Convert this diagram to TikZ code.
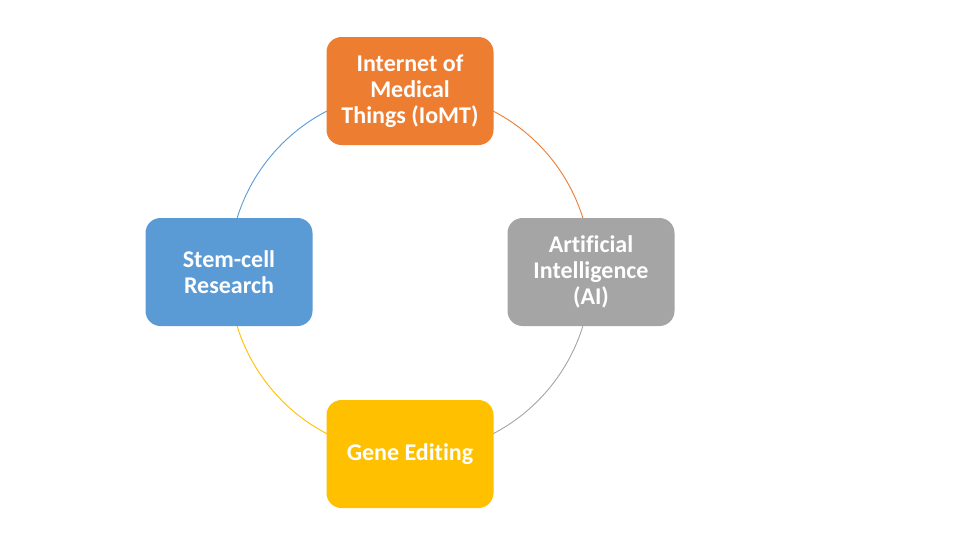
\documentclass[tikz,border=0pt]{standalone}
\usepackage{fontspec}
\setmainfont{Carlito}[Ligatures=NoCommon]
\usetikzlibrary{backgrounds}
\definecolor{cOrange}{HTML}{ED7D31}
\definecolor{cGray}{HTML}{A5A5A5}
\definecolor{cYellow}{HTML}{FFC000}
\definecolor{cBlue}{HTML}{5B9BD5}
\tikzset{
  box/.style={rectangle, rounded corners=15pt, minimum width=167pt, minimum height=108pt,
    inner sep=0pt, text=white, align=center, font=\fontsize{24}{26}\selectfont\bfseries},
  link/.style={line width=0.9pt},
}
\begin{document}
\begin{tikzpicture}[x=1pt,y=-1pt]
\useasboundingbox (0,0) rectangle (975,539);
\node[box, fill=cOrange] (iomt) at (410,91) {Internet of\\Medical\\Things (IoMT)};
\node[box, fill=cGray] (ai) at (591,272) {Artificial\\Intelligence\\(AI)};
\node[box, fill=cYellow] (gene) at (410,454) {Gene Editing};
\node[box, fill=cBlue] (stem) at (229,272) {Stem-cell\\Research};
\begin{scope}[on background layer]
\fill[white] (0,0) rectangle (975,539);
\draw[link, cOrange] (iomt.center) to[out=0, in=90] (ai.center);
\draw[link, cGray] (ai.center) to[out=-90, in=0] (gene.center);
\draw[link, cYellow] (gene.center) to[out=180, in=-90] (stem.center);
\draw[link, cBlue] (stem.center) to[out=90, in=180] (iomt.center);
\end{scope}
\end{tikzpicture}
\end{document}
